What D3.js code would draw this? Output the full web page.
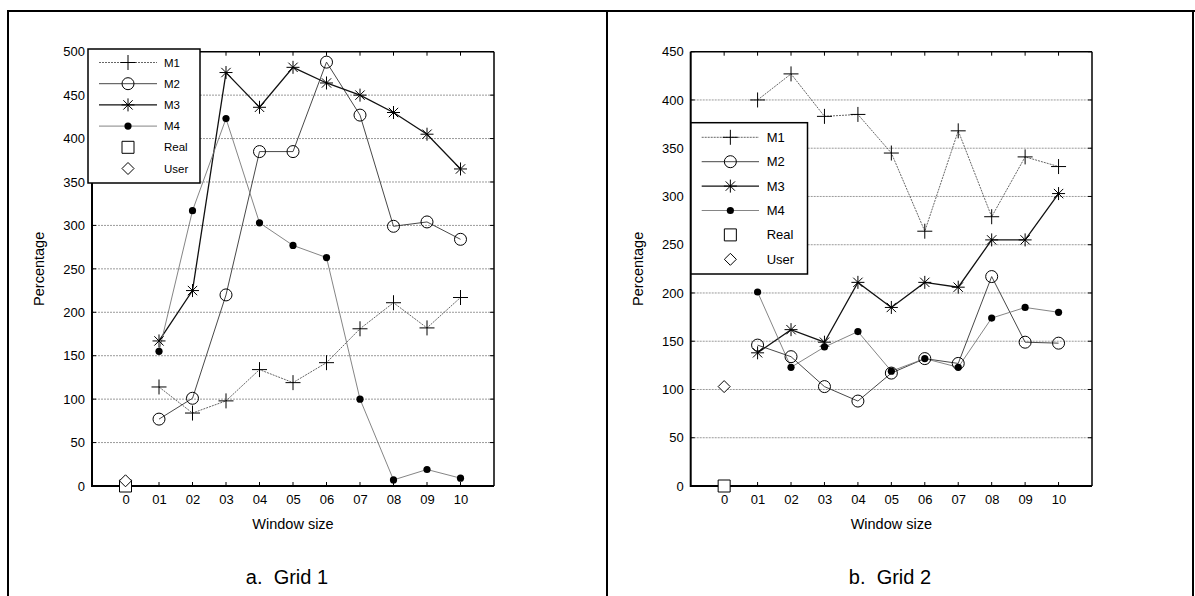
<!DOCTYPE html>
<html>
<head>
<meta charset="utf-8">
<script src="https://cdnjs.cloudflare.com/ajax/libs/d3/7.8.5/d3.min.js"></script>
<style>
  html, body { margin: 0; padding: 0; background: #fff; }
  svg { display: block; }
  text { font-family: "Liberation Sans", Arial, sans-serif; fill: #000; }
</style>
</head>
<body>
<svg id="chart" width="1195" height="596"></svg>
<script>
// ---------- data ----------
const categories = ["0", "01", "02", "03", "04", "05", "06", "07", "08", "09", "10"];
const seriesNames = ["M1", "M2", "M3", "M4", "Real", "User"];

// Grid 1 (values for 01..10)
const g1_M1 = [114, 84, 98, 134, 119, 142, 181, 211, 182, 217];
const g1_M2 = [77, 101, 220, 385, 385, 488, 427, 299, 304, 284];
const g1_M3 = [167, 225, 476, 436, 482, 464, 450, 430, 405, 365];
const g1_M4 = [155, 317, 423, 303, 277, 263, 100, 7, 19, 9];
const g1_Real = [0];
const g1_User = [6];
const g1_yTicks = [0, 50, 100, 150, 200, 250, 300, 350, 400, 450, 500];

// Grid 2 (values for 01..10)
const g2_M1 = [400, 427, 383, 385, 345, 264, 368, 279, 341, 331];
const g2_M2 = [146, 134, 103, 88, 117, 132, 127, 217, 149, 148];
const g2_M3 = [138, 162, 149, 211, 185, 211, 206, 255, 255, 303];
const g2_M4 = [201, 123, 144, 160, 119, 132, 123, 174, 185, 180];
const g2_Real = [0];
const g2_User = [103];
const g2_yTicks = [0, 50, 100, 150, 200, 250, 300, 350, 400, 450];

const yLabel = "Percentage";
const xLabel = "Window size";
const captions = ["a.  Grid 1", "b.  Grid 2"];

// ---------- drawing ----------
const svg = d3.select("#chart");

// table frame
const frame = svg.append("g").attr("stroke", "#000").attr("stroke-width", 2);
frame.append("line").attr("x1", 7).attr("x2", 1195).attr("y1", 11).attr("y2", 11);
frame.append("line").attr("x1", 8).attr("x2", 8).attr("y1", 10).attr("y2", 596);
frame.append("line").attr("x1", 607).attr("x2", 607).attr("y1", 10).attr("y2", 596);
frame.append("line").attr("x1", 1193).attr("x2", 1193).attr("y1", 10).attr("y2", 596);

function markerPath(type, s) {
  const h = s / 2;
  if (type === "plus") return `M${-h},0H${h}M0,${-h}V${h}`;
  if (type === "star") {
    const d = h * 0.72;
    return `M${-h},0H${h}M0,${-h}V${h}M${-d},${-d}L${d},${d}M${-d},${d}L${d},${-d}`;
  }
  if (type === "square") return `M${-h},${-h}H${h}V${h}H${-h}Z`;
  if (type === "diamond") return `M0,${-h}L${h},0L0,${h}L${-h},0Z`;
  return "";
}

function drawMarker(g, type, x, y) {
  if (type === "circle") {
    g.append("circle").attr("cx", x).attr("cy", y).attr("r", 6)
      .attr("fill", "none").attr("stroke", "#000").attr("stroke-width", 1);
  } else if (type === "dot") {
    g.append("circle").attr("cx", x).attr("cy", y).attr("r", 3.6).attr("fill", "#000");
  } else {
    const size = type === "plus" ? 15 : (type === "star" ? 13 : 12);
    g.append("path").attr("transform", `translate(${x},${y})`)
      .attr("d", markerPath(type, size))
      .attr("fill", type === "square" || type === "diamond" ? "#fff" : "none")
      .attr("stroke", "#000").attr("stroke-width", 1);
  }
}

const styles = {
  M1: { marker: "plus", stroke: "#555", width: 0.9, dash: "2,1" },
  M2: { marker: "circle", stroke: "#333", width: 0.9, dash: null },
  M3: { marker: "star", stroke: "#111", width: 1.3, dash: null },
  M4: { marker: "dot", stroke: "#777", width: 0.9, dash: null },
  Real: { marker: "square" },
  User: { marker: "diamond" }
};

function drawPanel(cfg) {
  const g = svg.append("g");
  const x = d3.scaleLinear().domain([-1, categories.length]).range([cfg.left, cfg.right]);
  const y = d3.scaleLinear().domain([0, cfg.yMax]).range([cfg.bottom, cfg.top]);

  // grid lines
  g.append("g").selectAll("line")
    .data(cfg.yTicks.filter(t => t > 0 && t < cfg.yMax))
    .join("line")
    .attr("x1", cfg.left).attr("x2", cfg.right)
    .attr("y1", d => y(d)).attr("y2", d => y(d))
    .attr("stroke", "#9a9a9a").attr("stroke-width", 1).attr("stroke-dasharray", "2,1");

  // left axis via d3 axis (labels)
  const yAxis = d3.axisLeft(y).tickValues(cfg.yTicks).tickSize(0).tickPadding(7).tickFormat(d3.format("d"));
  const ya = g.append("g").attr("transform", `translate(${cfg.left},0)`).call(yAxis);
  ya.select(".domain").remove();
  ya.selectAll("text").attr("font-size", 13).attr("font-family", "Liberation Sans, Arial, sans-serif");

  // bottom axis labels
  const xAxis = d3.axisBottom(x).tickValues(d3.range(categories.length)).tickSize(0).tickPadding(9)
    .tickFormat(i => categories[i]);
  const xa = g.append("g").attr("transform", `translate(0,${cfg.bottom})`).call(xAxis);
  xa.select(".domain").remove();
  xa.selectAll("text").attr("font-size", 13).attr("font-family", "Liberation Sans, Arial, sans-serif");

  // inward ticks
  const tk = g.append("g").attr("stroke", "#000").attr("stroke-width", 1);
  d3.range(categories.length).forEach(i => {
    tk.append("line").attr("x1", x(i)).attr("x2", x(i)).attr("y1", cfg.bottom).attr("y2", cfg.bottom - 4);
    tk.append("line").attr("x1", x(i)).attr("x2", x(i)).attr("y1", cfg.top).attr("y2", cfg.top + 4);
  });
  cfg.yTicks.forEach(t => {
    tk.append("line").attr("x1", cfg.left).attr("x2", cfg.left + 4).attr("y1", y(t)).attr("y2", y(t));
    tk.append("line").attr("x1", cfg.right).attr("x2", cfg.right - 4).attr("y1", y(t)).attr("y2", y(t));
  });

  // box
  g.append("line").attr("x1", cfg.left).attr("x2", cfg.right).attr("y1", cfg.top).attr("y2", cfg.top)
    .attr("stroke", "#000").attr("stroke-width", 1.5);
  g.append("line").attr("x1", cfg.right).attr("x2", cfg.right).attr("y1", cfg.top).attr("y2", cfg.bottom)
    .attr("stroke", "#000").attr("stroke-width", 1.5);
  g.append("line").attr("x1", cfg.left).attr("x2", cfg.left).attr("y1", cfg.top).attr("y2", cfg.bottom + 1)
    .attr("stroke", "#000").attr("stroke-width", 2);
  g.append("line").attr("x1", cfg.left).attr("x2", cfg.right).attr("y1", cfg.bottom).attr("y2", cfg.bottom)
    .attr("stroke", "#000").attr("stroke-width", 2);

  // series lines
  const line = d3.line().x(d => x(d.i)).y(d => y(d.v));
  ["M1", "M2", "M3", "M4"].forEach(name => {
    const pts = cfg.series[name].map((v, k) => ({ i: k + 1, v }));
    const st = styles[name];
    g.append("path").datum(pts).attr("d", line).attr("fill", "none")
      .attr("stroke", st.stroke).attr("stroke-width", st.width)
      .attr("stroke-dasharray", st.dash);
  });
  ["M1", "M2", "M3", "M4"].forEach(name => {
    const mg = g.append("g");
    cfg.series[name].forEach((v, k) => drawMarker(mg, styles[name].marker, x(k + 1), y(v)));
  });
  ["Real", "User"].forEach(name => {
    const mg = g.append("g");
    cfg.series[name].forEach((v, k) => drawMarker(mg, styles[name].marker, x(k), y(v)));
  });

  // axis titles
  g.append("text").attr("transform", `translate(${cfg.yTitleX},${(cfg.top + cfg.bottom) / 2}) rotate(-90)`)
    .attr("text-anchor", "middle").attr("font-size", 14.5).text(yLabel);
  g.append("text").attr("x", (cfg.left + cfg.right) / 2).attr("y", cfg.bottom + 43)
    .attr("text-anchor", "middle").attr("font-size", 14.5).text(xLabel);

  // legend
  const L = cfg.legend;
  const lg = g.append("g");
  lg.append("rect").attr("x", L.x).attr("y", L.y).attr("width", L.w).attr("height", L.h)
    .attr("fill", "#fff").attr("stroke", "#000").attr("stroke-width", 1.5);
  seriesNames.forEach((name, k) => {
    const yy = L.y + L.first + k * L.step;
    const st = styles[name];
    if (st.stroke) {
      lg.append("line").attr("x1", L.x + L.l1).attr("x2", L.x + L.l2).attr("y1", yy).attr("y2", yy)
        .attr("stroke", st.stroke).attr("stroke-width", st.width).attr("stroke-dasharray", st.dash);
    }
    drawMarker(lg, st.marker, L.x + (L.l1 + L.l2) / 2, yy);
    lg.append("text").attr("x", L.x + L.tx).attr("y", yy).attr("dy", "0.35em")
      .attr("font-size", L.fs).text(name);
  });

  // caption
  g.append("text").attr("x", cfg.capX).attr("y", 584).attr("text-anchor", "middle")
    .attr("font-size", 20).style("white-space", "pre").attr("xml:space", "preserve").text(cfg.caption);
}

drawPanel({
  left: 92, right: 494, top: 51.7, bottom: 486, yMax: 500, yTicks: g1_yTicks,
  series: { M1: g1_M1, M2: g1_M2, M3: g1_M3, M4: g1_M4, Real: g1_Real, User: g1_User },
  yTitleX: 44,
  legend: { x: 88, y: 49, w: 112, h: 134, first: 13.5, step: 21.2, l1: 11, l2: 69, tx: 76, fs: 11.5 },
  caption: captions[0], capX: 287
});

drawPanel({
  left: 690.7, right: 1092, top: 51.7, bottom: 486, yMax: 450, yTicks: g2_yTicks,
  series: { M1: g2_M1, M2: g2_M2, M3: g2_M3, M4: g2_M4, Real: g2_Real, User: g2_User },
  yTitleX: 643,
  legend: { x: 691, y: 122.7, w: 116.5, h: 151.3, first: 14.6, step: 24.4, l1: 10.7, l2: 68, tx: 75.7, fs: 13 },
  caption: captions[1], capX: 890
});
</script>
</body>
</html>
